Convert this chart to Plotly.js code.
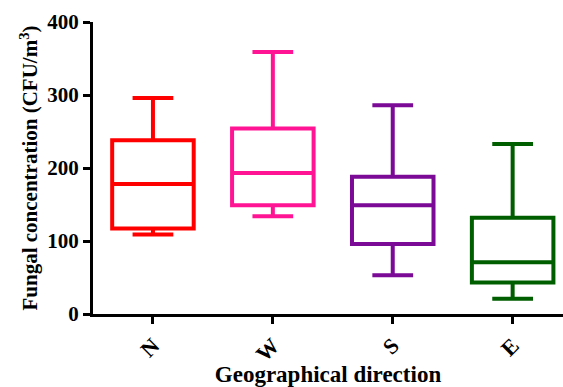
<!DOCTYPE html>
<html>
<head>
<meta charset="utf-8">
<script src="https://cdn.plot.ly/plotly-3.0.1.min.js"></script>
<style>html,body{margin:0;padding:0;background:#fff;}#chart{width:563px;height:387px;}</style>
</head>
<body>
<div id="chart"></div>
<script>
var categories = ["N", "W", "S", "E"];
var lowerWhisker = [109, 134, 53, 21];
var q1Values = [117, 149, 96, 43];
var medianValues = [178, 193, 149, 71];
var q3Values = [238, 254, 188, 132];
var upperWhisker = [296, 359, 286, 233];
var colors = ["#FF0000", "#FF1493", "#7B0A96", "#005E00"];
var yTicks = [0, 100, 200, 300, 400];

var traces = categories.map(function (c, i) {
  return {
    type: "box",
    x: [c],
    lowerfence: [lowerWhisker[i]],
    q1: [q1Values[i]],
    median: [medianValues[i]],
    q3: [q3Values[i]],
    upperfence: [upperWhisker[i]],
    width: 0.68,
    whiskerwidth: 0.5,
    fillcolor: "rgba(255,255,255,0)",
    line: { color: colors[i], width: 4 },
    boxpoints: false,
    hoverinfo: "skip",
    showlegend: false
  };
});

var fam = "'Liberation Serif', 'Times New Roman', serif";

var layout = {
  width: 563,
  height: 387,
  margin: { l: 93, r: 0, t: 22, b: 73 },
  paper_bgcolor: "#fff",
  plot_bgcolor: "#fff",
  boxmode: "overlay",
  showlegend: false,
  font: { family: fam, color: "#000" },
  xaxis: {
    type: "category",
    categoryorder: "array",
    categoryarray: categories,
    tickvals: categories,
    ticktext: categories.map(function (c) { return "<b>" + c + "</b>"; }),
    range: [-0.5, 3.42],
    showgrid: false,
    zeroline: false,
    showline: true,
    linecolor: "#000",
    linewidth: 3,
    ticks: "outside",
    ticklen: 7,
    tickwidth: 3,
    tickcolor: "#000",
    tickangle: -45,
    tickfont: { family: fam, size: 22, color: "#000" },
    title: { text: "<b>Geographical direction</b>", font: { family: fam, size: 23, color: "#000" }, standoff: 4 }
  },
  yaxis: {
    range: [0, 400],
    tickvals: yTicks,
    ticktext: yTicks.map(function (v) { return "<b>" + v + "</b>"; }),
    showgrid: false,
    zeroline: false,
    showline: true,
    linecolor: "#000",
    linewidth: 3,
    ticks: "outside",
    ticklen: 7,
    tickwidth: 3,
    tickcolor: "#000",
    tickfont: { family: fam, size: 21, color: "#000" },
    title: { text: "<b>Fungal concentration (CFU/m<sup>3</sup>)</b>", font: { family: fam, size: 21, color: "#000" }, standoff: 4 }
  }
};

Plotly.newPlot("chart", traces, layout, { staticPlot: true, displayModeBar: false });
</script>
</body>
</html>
